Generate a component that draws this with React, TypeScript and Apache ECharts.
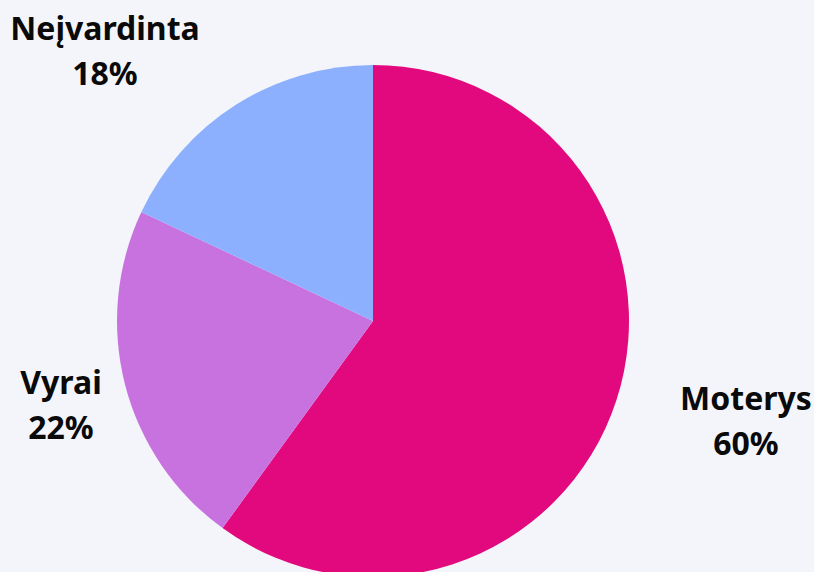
import React, { useEffect, useRef } from "react";
import * as echarts from "echarts";

const categories = ["Moterys", "Vyrai", "Neįvardinta"];
const values = [60, 22, 18];
const colors = ["#e2097e", "#c872e0", "#8cb0fe"];

const labelSpots: [number, number][] = [
  [746, 420],
  [61, 404],
  [105, 50],
];

export default function App() {
  const ref = useRef<HTMLDivElement>(null);
  useEffect(() => {
    document.body.style.margin = "0";
    const chart = echarts.init(ref.current!, null, { renderer: "svg" });
    chart.setOption({
      animation: false,
      backgroundColor: "#f4f5fa",
      series: [
        {
          type: "pie",
          center: [373, 321],
          radius: 256,
          startAngle: 90,
          clockwise: true,
          data: categories.map((name, i) => ({
            name,
            value: values[i],
            itemStyle: { color: colors[i] },
          })),
          label: {
            show: true,
            position: "outside",
            formatter: "{b}\n{c}%",
            fontFamily: "Noto Sans",
            fontWeight: "bold",
            fontSize: 32,
            lineHeight: 45,
            color: "#0a0a0a",
            align: "center",
            width: 300,
            overflow: "none",
          },
          labelLine: { show: false },
          labelLayout: (p: any) => {
            const s = labelSpots[p.dataIndex];
            return { x: s[0], y: s[1], align: "center", verticalAlign: "middle" };
          },
          emphasis: { disabled: true },
        },
      ],
    });
    return () => chart.dispose();
  }, []);
  return <div ref={ref} style={{ width: 814, height: 572 }} />;
}
